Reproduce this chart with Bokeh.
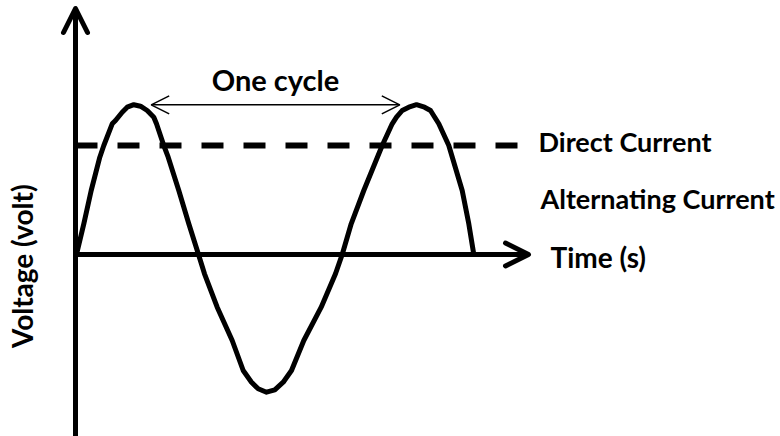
import math
from bokeh.plotting import figure
from bokeh.models import Range1d, Arrow, OpenHead
from bokeh.core.properties import value
from bokeh.embed import file_html
from bokeh.resources import INLINE

# ---- data (time in arbitrary units, voltage in arbitrary units) ----
wave_time = [1, 8.3, 15.7, 24.3, 28.3, 36.7, 40, 46.7, 51.7, 58.3,
             65, 71.7, 78.3, 81, 88.3, 92.7, 103.3, 113.3, 123, 129,
             141.7, 156.7, 167.7, 176, 182.7, 191, 199.3, 207.7, 216, 228.3,
             245.7, 260, 266.7, 275.7, 288.3, 306.7, 316.7, 321, 326.7, 333.3,
             341, 349, 355, 363.3, 373.3, 386.7, 393.3, 398.3]
wave_volt = [0, 30.7, 64, 97.3, 109, 130.7, 134, 142.3, 147.3, 149.8,
             148.3, 144, 137.3, 130.7, 109, 97.3, 64, 30.7, 0, -19.3,
             -52.7, -86, -116, -127.7, -134.3, -137.7, -135.3, -127.7, -116, -86,
             -52.7, -19.3, 0, 30.7, 64, 109, 130.7, 137.3, 144, 147.3,
             149.8, 147.3, 144, 130.7, 109, 64, 30.7, 0]

dc_level = 109            # direct current voltage
dc_time_end = 445
time_axis_end = 453
volt_axis_top = 246
volt_axis_bottom = -182
cycle_start = 75.7        # one cycle: peak to peak
cycle_end = 324.3
cycle_level = 149.7

labels = ["One cycle", "Direct Current", "Alternating Current", "Time (s)", "Voltage (volt)"]
label_t = [200, 463, 465, 475, -54]
label_v = [175, 113.3, 55.7, -2.7, -11.7]
label_size = ["29px", "27px", "27px", "28px", "28px"]

p = figure(width=780, height=436, x_range=Range1d(-75, 705), y_range=Range1d(-182, 254),
           output_backend="svg", toolbar_location=None, min_border=0,
           x_axis_location=None, y_axis_location=None)
p.grid.visible = False
p.outline_line_color = None
p.background_fill_color = "white"

# axes as arrows
p.add_layout(Arrow(end=OpenHead(size=24, line_width=5, line_join="round", line_cap="round"),
                   x_start=0, y_start=volt_axis_bottom, x_end=0, y_end=volt_axis_top,
                   line_width=5, line_color="black"))
p.add_layout(Arrow(end=OpenHead(size=23, line_width=5, line_join="round", line_cap="round"),
                   x_start=0, y_start=0, x_end=time_axis_end, y_end=0,
                   line_width=5, line_color="black"))

# DC dashed line
p.line([0, dc_time_end], [dc_level, dc_level], line_width=6, line_color="black",
       line_dash="22 20")

# AC wave
p.line(wave_time, wave_volt, line_width=5, line_color="black", line_join="round")

# one cycle arrow
p.add_layout(Arrow(start=OpenHead(size=18, line_width=1.5), end=OpenHead(size=18, line_width=1.5),
                   x_start=cycle_start, y_start=cycle_level, x_end=cycle_end, y_end=cycle_level,
                   line_width=1.5, line_color="black"))

font = value("Lato")
p.text(x=[label_t[0]], y=[label_v[0]], text=[labels[0]], text_font=font, text_font_style="bold",
       text_font_size=value(label_size[0]), text_align="center", text_baseline="alphabetic",
       text_color="black")
for i in (1, 2, 3):
    p.text(x=[label_t[i]], y=[label_v[i]], text=[labels[i]], text_font=font,
           text_font_style="bold", text_font_size=value(label_size[i]), text_align="left",
           text_baseline="alphabetic", text_color="black")
p.text(x=[label_t[4]], y=[label_v[4]], text=[labels[4]], text_font=font, text_font_style="bold",
       text_font_size=value(label_size[4]), text_align="center", text_baseline="alphabetic",
       angle=math.pi / 2, text_color="black")

open("out.html", "w").write(file_html(p, INLINE))
